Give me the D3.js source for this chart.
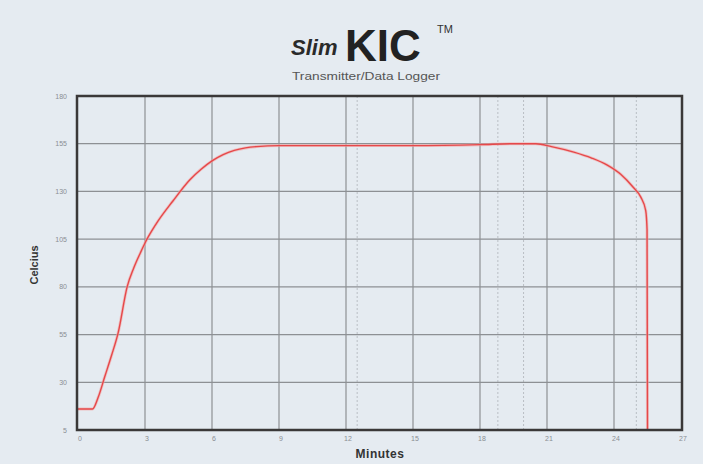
<!DOCTYPE html>
<html>
<head>
<meta charset="utf-8">
<script src="https://cdn.jsdelivr.net/npm/d3@7"></script>
<style>
  body { margin: 0; background: #e5ebf1; }
  svg { display: block; }
</style>
</head>
<body>
<div id="chart"></div>
<script>
// profile data
const minutes = [0, 0.65, 0.9, 1.2, 1.5, 1.8, 2.2, 2.5, 2.8, 3.0, 3.5, 4.25, 5, 5.5, 6, 6.5, 7, 7.5, 8, 9, 12, 15, 18, 19.5, 20.5, 21.2, 22.2, 23, 23.7, 24.3, 24.85, 25.2, 25.42, 25.48, 25.5];
const celsius = [16, 16, 22, 33, 44, 56, 80, 90, 98, 103, 113, 125, 136, 141.5, 146, 149.3, 151.5, 152.8, 153.5, 154, 154, 154, 154.5, 155, 155, 153.5, 150.6, 147.5, 143.8, 139, 132.3, 127, 120, 110, 5];

const xTicks = [0, 3, 6, 9, 12, 15, 18, 21, 24, 27];
const yTicks = [5, 30, 55, 80, 105, 130, 155, 180];
// faint extra vertical marker lines
const markerMinutes = [12.5, 18.8, 19.95, 25.0];

const W = 703, H = 464;
const svg = d3.select("#chart").append("svg")
  .attr("width", W)
  .attr("height", H);

svg.append("rect").attr("width", W).attr("height", H).attr("fill", "#e5ebf1");

const x = d3.scaleLinear().domain([0, 27]).range([78, 681]);
const y = d3.scaleLinear().domain([5, 180]).range([430, 96]);

// title
const title = svg.append("g").attr("font-family", "Liberation Sans, Arial, sans-serif");
title.append("text")
  .attr("x", 291).attr("y", 55)
  .attr("font-size", 22).attr("font-weight", "bold").attr("font-style", "italic")
  .attr("fill", "#2a2a2a")
  .text("Slim");
title.append("text")
  .attr("x", 345).attr("y", 61)
  .attr("font-size", 44).attr("font-weight", "bold")
  .attr("fill", "#222")
  .text("KIC");
title.append("text")
  .attr("x", 437).attr("y", 33)
  .attr("font-size", 11)
  .attr("fill", "#333")
  .text("TM");
title.append("text")
  .attr("x", 292).attr("y", 80)
  .attr("font-size", 10)
  .attr("textLength", 148).attr("lengthAdjust", "spacingAndGlyphs")
  .attr("fill", "#555")
  .text("Transmitter/Data Logger");

// grid
const grid = svg.append("g");
grid.selectAll(".marker")
  .data(markerMinutes)
  .enter().append("line")
  .attr("x1", d => x(d)).attr("x2", d => x(d))
  .attr("y1", y(180)).attr("y2", y(5))
  .attr("stroke", "#b9bec4")
  .attr("stroke-width", 1)
  .attr("stroke-dasharray", "2,2");

grid.selectAll(".vgrid")
  .data(xTicks.slice(1, -1))
  .enter().append("line")
  .attr("x1", d => x(d)).attr("x2", d => x(d))
  .attr("y1", y(180)).attr("y2", y(5))
  .attr("stroke", "#8d9094")
  .attr("stroke-width", 1.2);

grid.selectAll(".hgrid")
  .data(yTicks.slice(1, -1))
  .enter().append("line")
  .attr("x1", x(0)).attr("x2", x(27))
  .attr("y1", d => y(d)).attr("y2", d => y(d))
  .attr("stroke", "#8d9094")
  .attr("stroke-width", 1.2);

// curve
const pts = minutes.map((m, i) => [m, celsius[i]]);
const line = d3.line()
  .x(d => x(d[0]))
  .y(d => y(d[1]))
  .curve(d3.curveMonotoneX);

svg.append("path")
  .datum(pts)
  .attr("fill", "none")
  .attr("stroke", "#f3a5a5")
  .attr("stroke-width", 3)
  .attr("opacity", 0.6)
  .attr("d", line);
svg.append("path")
  .datum(pts)
  .attr("fill", "none")
  .attr("stroke", "#e5484a")
  .attr("stroke-width", 1.4)
  .attr("d", line);

// frame
svg.append("rect")
  .attr("x", x(0) - 1).attr("y", y(180))
  .attr("width", x(27) - x(0) + 2).attr("height", y(5) - y(180))
  .attr("fill", "none")
  .attr("stroke", "#3a3838")
  .attr("stroke-width", 2.5);

// tick labels
const ticks = svg.append("g")
  .attr("font-family", "Liberation Sans, Arial, sans-serif")
  .attr("font-size", 7)
  .attr("fill", "#8a8e93");
ticks.selectAll(".ylab")
  .data(yTicks)
  .enter().append("text")
  .attr("x", 67)
  .attr("y", d => y(d) + 2.5)
  .attr("text-anchor", "end")
  .text(d => d);
ticks.selectAll(".xlab")
  .data(xTicks)
  .enter().append("text")
  .attr("x", d => x(d) + 2)
  .attr("y", 441)
  .attr("text-anchor", "middle")
  .text(d => d);

// axis titles
svg.append("text")
  .attr("transform", `translate(38,265) rotate(-90)`)
  .attr("text-anchor", "middle")
  .attr("font-family", "Liberation Sans, Arial, sans-serif")
  .attr("font-size", 11).attr("font-weight", "bold")
  .attr("fill", "#333")
  .text("Celcius");
svg.append("text")
  .attr("x", 380).attr("y", 458)
  .attr("text-anchor", "middle")
  .attr("font-family", "Liberation Sans, Arial, sans-serif")
  .attr("font-size", 12).attr("font-weight", "bold")
  .attr("letter-spacing", 0.5)
  .attr("fill", "#333")
  .text("Minutes");
</script>
</body>
</html>
